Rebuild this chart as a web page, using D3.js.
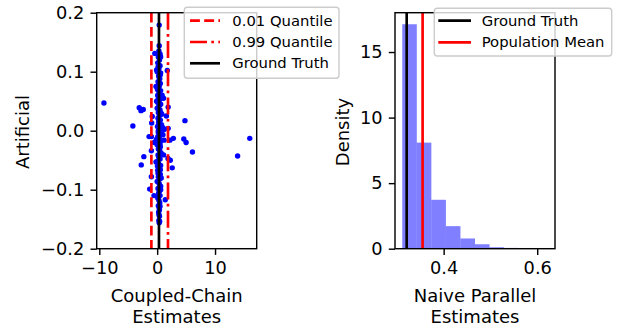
<!DOCTYPE html>
<html>
<head>
<meta charset="utf-8">
<script src="https://cdn.jsdelivr.net/npm/d3@7"></script>
<style>
  html, body { margin: 0; padding: 0; background: #fff; }
  svg { display: block; font-family: "DejaVu Sans", sans-serif; }
</style>
</head>
<body>
<svg id="chart" width="620" height="328"></svg>
<script>
// ---------- data ----------
// Left panel: [coupled-chain estimate, artificial jitter]
const coupledChainPoints = [
  [-9.2,0.047],[-4.2,0.008],[-3.1,0.039],[-2.8,0.034],[-2.4,0.036],[-2.75,-0.058],[-2.3,-0.044],
  [4.8,0.017],[4.6,-0.014],[5.0,-0.02],[6.1,-0.036],[2.8,-0.013],[2.6,-0.063],[13.9,-0.043],[16.0,-0.013],
  [1.87,-0.047],[2.27,-0.05],[1.4,-0.117],[1.75,0.102],[1.9,0.04],[1.6,0.025],[1.1,0.055],
  [-0.55,-0.11],[-1.3,-0.099],[-1.0,-0.078],[-1.0,-0.034],[-1.0,-0.01],[-1.4,-0.01],[-0.95,0.013],[-0.85,0.024],
  [-0.2,-0.053],[1.1,-0.041],[2.2,-0.016],[1.2,-0.016],[1.9,0.004],[1.2,0.002],[1.0,-0.007],
  [0.35,0.179],[0.35,0.144],[-0.4,0.131],[0.5,0.13],[-0.1,0.103],[0.35,-0.156],[0.3,-0.152],[0.43,-0.154],
  [0.4,-0.134],[1.0,0.005],[-0.5,-0.02],
  [0.2,0.125],[0.4,0.12],[0.1,0.115],[0.5,0.11],[0.3,0.105],[0.0,0.1],[0.6,0.098],[0.25,0.093],
  [0.45,0.088],[0.15,0.083],[0.55,0.08],[0.35,0.075],[0.05,0.07],[0.3,0.066],[0.5,0.062],[0.2,0.058],
  [0.7,0.055],[0.4,0.052],[0.1,0.048],[0.6,0.045],[0.3,0.042],[0.0,0.038],[0.5,0.035],[0.2,0.031],
  [0.8,0.028],[0.35,0.025],[0.15,0.021],[0.55,0.018],[0.25,0.014],[0.45,0.011],[0.05,0.007],[0.65,0.004],
  [0.3,0.001],[0.2,-0.003],[0.5,-0.006],[0.1,-0.01],[0.4,-0.013],[0.6,-0.017],[0.3,-0.02],[0.0,-0.024],
  [0.55,-0.027],[0.2,-0.031],[0.45,-0.034],[0.7,-0.038],[0.15,-0.041],[0.35,-0.045],[0.5,-0.048],[0.05,-0.052],
  [0.25,-0.056],[0.6,-0.059],[0.4,-0.063],[0.1,-0.067],[0.3,-0.07],[0.55,-0.074],[0.2,-0.078],[0.45,-0.082],
  [0.0,-0.086],[0.35,-0.09],[0.6,-0.094],[0.15,-0.098],[0.4,-0.102],[0.25,-0.106],[0.5,-0.11],[0.1,-0.114],
  [0.3,-0.118],[0.45,-0.122],[0.2,-0.127],[0.35,-0.131],[0.25,-0.138],[0.4,-0.145],[0.3,0.135],[0.35,0.09],
  [0.1,0.06],[0.65,0.03],[0.2,0.0],[0.4,-0.028],[0.05,-0.06],[0.6,-0.1],[-0.1,0.05],[0.8,-0.005],
  [0.45,0.128],[0.15,0.108],[0.55,0.095],[0.25,0.078],[0.6,0.068],[0.15,0.052],[0.45,0.044],[0.25,0.02],
  [0.55,0.008],[0.15,-0.015],[0.5,-0.022],[0.25,-0.044],[0.55,-0.066],[0.15,-0.072],[0.45,-0.096],[0.2,-0.112],
  [0.5,-0.128],[0.3,-0.142],[0.6,0.125],[0.7,-0.08],[0.75,0.01],[-0.15,-0.015],[-0.2,0.075],[0.85,0.06]
];
const quantile01 = -1.0;
const quantile99 = 1.87;
const groundTruthLeft = 0.31;

const leftXTicks = [-10, 0, 10];
const leftYTicks = [-0.2, -0.1, 0.0, 0.1, 0.2];

// Right panel: histogram (density)
const binEdges = [0.3115,0.3426,0.3737,0.4048,0.4359,0.467,0.4981,0.5292,0.5603,0.5914,0.6225];
const densities = [17.12,8.09,3.73,1.72,0.78,0.34,0.11,0.06,0.03,0.01];
const groundTruthRight = 0.321;
const populationMean = 0.355;

const rightXTicks = [0.4, 0.6];
const rightYTicks = [0, 5, 10, 15];

const leftLegendLabels = ["0.01 Quantile", "0.99 Quantile", "Ground Truth"];
const rightLegendLabels = ["Ground Truth", "Population Mean"];

// ---------- layout ----------
const svg = d3.select("#chart");
const TOP = 12.7, BOTTOM = 248.7;
const tickFont = 17.8, labelFont = 18, legendFont = 14.8;
const spineW = 1.42, lineW = 2.67;
const tickLen = 6.2, tickPad = 6.2;

function styleAxis(g) {
  g.selectAll(".domain").remove();
  g.selectAll(".tick line").attr("stroke", "#000").attr("stroke-width", spineW);
  g.selectAll(".tick text").attr("font-size", tickFont).attr("fill", "#000")
    .attr("font-family", "DejaVu Sans");
}

function frame(x0, x1) {
  svg.append("rect").attr("x", x0).attr("y", TOP).attr("width", x1 - x0).attr("height", BOTTOM - TOP)
    .attr("fill", "none").attr("stroke", "#000").attr("stroke-width", spineW);
}

// ---------- left panel ----------
const lx = d3.scaleLinear().domain([-10.45, 17.2]).range([96.7, 256.7]);
const ly = d3.scaleLinear().domain([-0.2, 0.2]).range([BOTTOM, TOP]);

const left = svg.append("g");
left.selectAll("circle").data(coupledChainPoints).join("circle")
  .attr("cx", d => lx(d[0])).attr("cy", d => ly(d[1])).attr("r", 2.7)
  .attr("fill", "#0000ff");

const vline = (g, sx, v, color, dash) => g.append("line")
  .attr("x1", sx(v)).attr("x2", sx(v)).attr("y1", TOP).attr("y2", BOTTOM)
  .attr("stroke", color).attr("stroke-width", lineW).attr("stroke-dasharray", dash);

vline(left, lx, quantile01, "#ff0000", "9.9,4.3");
vline(left, lx, quantile99, "#ff0000", "17,4.3,2.7,4.3");
vline(left, lx, groundTruthLeft, "#000000", null);

left.append("g").attr("transform", `translate(0,${BOTTOM})`)
  .call(d3.axisBottom(lx).tickValues(leftXTicks).tickFormat(d3.format("d")).tickSize(tickLen).tickPadding(tickPad))
  .call(styleAxis);
left.append("g").attr("transform", `translate(96.7,0)`)
  .call(d3.axisLeft(ly).tickValues(leftYTicks).tickFormat(d3.format(".1f")).tickSize(tickLen).tickPadding(tickPad))
  .call(styleAxis);
frame(96.7, 256.7);

svg.append("text").attr("transform", "translate(28.5,132) rotate(-90)")
  .attr("text-anchor", "middle").attr("font-size", labelFont).text("Artificial");
svg.append("text").attr("x", 176.7).attr("y", 301.5).attr("text-anchor", "middle")
  .attr("font-size", labelFont).text("Coupled-Chain");
svg.append("text").attr("x", 176.7).attr("y", 323).attr("text-anchor", "middle")
  .attr("font-size", labelFont).text("Estimates");

// ---------- right panel ----------
const rx = d3.scaleLinear().domain([0.296, 0.638]).range([395, 555]);
const ry = d3.scaleLinear().domain([0, 18.0]).range([BOTTOM, TOP]);

const right = svg.append("g");
const bins = densities.map((d, i) => ({x0: binEdges[i], x1: binEdges[i + 1], h: d}));
right.selectAll("rect.bar").data(bins).join("rect").attr("class", "bar")
  .attr("x", d => rx(d.x0)).attr("width", d => rx(d.x1) - rx(d.x0))
  .attr("y", d => ry(d.h)).attr("height", d => ry(0) - ry(d.h))
  .attr("fill", "#0000ff").attr("fill-opacity", 0.5);

vline(right, rx, groundTruthRight, "#000000", null);
vline(right, rx, populationMean, "#ff0000", null);

right.append("g").attr("transform", `translate(0,${BOTTOM})`)
  .call(d3.axisBottom(rx).tickValues(rightXTicks).tickFormat(d3.format(".1f")).tickSize(tickLen).tickPadding(tickPad))
  .call(styleAxis);
right.append("g").attr("transform", `translate(395,0)`)
  .call(d3.axisLeft(ry).tickValues(rightYTicks).tickFormat(d3.format("d")).tickSize(tickLen).tickPadding(tickPad))
  .call(styleAxis);
frame(395, 555);

svg.append("text").attr("transform", "translate(348.5,132) rotate(-90)")
  .attr("text-anchor", "middle").attr("font-size", labelFont).text("Density");
svg.append("text").attr("x", 475).attr("y", 301.5).attr("text-anchor", "middle")
  .attr("font-size", labelFont).text("Naive Parallel");
svg.append("text").attr("x", 475).attr("y", 323).attr("text-anchor", "middle")
  .attr("font-size", labelFont).text("Estimates");

// ---------- legends ----------
function legend(box, items) {
  const g = svg.append("g");
  g.append("rect").attr("x", box.x).attr("y", box.y).attr("width", box.w).attr("height", box.h)
    .attr("rx", 3).attr("fill", "#fff").attr("fill-opacity", 0.8)
    .attr("stroke", "#cccccc").attr("stroke-width", 1.4);
  items.forEach((it, i) => {
    const cy = box.first + i * box.step;
    g.append("line").attr("x1", box.hx0).attr("x2", box.hx1).attr("y1", cy).attr("y2", cy)
      .attr("stroke", it.color).attr("stroke-width", lineW).attr("stroke-dasharray", it.dash);
    g.append("text").attr("x", box.tx).attr("y", cy).attr("dy", "0.35em")
      .attr("font-size", legendFont).text(it.label);
  });
}

legend({x: 184.3, y: 7.3, w: 154.7, h: 71, first: 20.7, step: 21.3, hx0: 190, hx1: 220, tx: 232.3}, [
  {label: leftLegendLabels[0], color: "#ff0000", dash: "9.9,4.3"},
  {label: leftLegendLabels[1], color: "#ff0000", dash: "17,4.3,2.7,4.3"},
  {label: leftLegendLabels[2], color: "#000000", dash: null}
]);
legend({x: 434.3, y: 8.3, w: 177.4, h: 47.7, first: 20.7, step: 21.6, hx0: 438.3, hx1: 471, tx: 481.7}, [
  {label: rightLegendLabels[0], color: "#000000", dash: null},
  {label: rightLegendLabels[1], color: "#ff0000", dash: null}
]);
</script>
</body>
</html>
